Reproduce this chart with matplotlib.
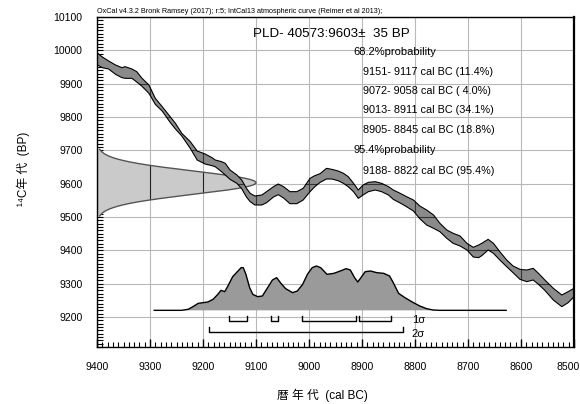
import numpy as np
import matplotlib
matplotlib.use('Agg')
import matplotlib.pyplot as plt
import matplotlib.transforms as mtransforms
from matplotlib import font_manager
from matplotlib.ticker import MultipleLocator

names = {f.name for f in font_manager.fontManager.ttflist}
latin = 'Liberation Sans Narrow' if 'Liberation Sans Narrow' in names else 'Liberation Sans'
plt.rcParams['font.family'] = [latin, 'Noto Sans CJK JP', 'DejaVu Sans']

# calibration curve band (cal BC, upper / lower edge in BP)
curve_bc = [9400, 9390, 9378, 9365, 9353, 9347, 9334, 9325, 9315, 9302, 9290, 9277,
            9262, 9252, 9240, 9224, 9211, 9196, 9183, 9177, 9165, 9158, 9149, 9136,
            9127, 9118, 9111, 9102, 9089, 9080, 9067, 9058, 9048, 9036, 9023, 9011,
            8998, 8989, 8979, 8967, 8957, 8945, 8935, 8926, 8916, 8907, 8898, 8888,
            8875, 8863, 8850, 8841, 8828, 8816, 8803, 8791, 8778, 8765, 8753, 8740,
            8728, 8715, 8702, 8690, 8680, 8674, 8662, 8652, 8640, 8627, 8615, 8602,
            8589, 8577, 8567, 8555, 8539, 8523, 8511, 8500]
curve_hi = [9993, 9980, 9968, 9956, 9948, 9951, 9944, 9936, 9916, 9896, 9856, 9831,
            9801, 9781, 9751, 9726, 9698, 9689, 9678, 9671, 9666, 9661, 9641, 9626,
            9611, 9586, 9571, 9563, 9566, 9576, 9591, 9599, 9591, 9576, 9576, 9586,
            9616, 9624, 9630, 9646, 9643, 9638, 9631, 9621, 9601, 9581, 9596, 9604,
            9606, 9601, 9591, 9581, 9571, 9561, 9551, 9533, 9521, 9506, 9481, 9461,
            9451, 9443, 9421, 9409, 9416, 9421, 9433, 9421, 9396, 9371, 9353, 9343,
            9341, 9346, 9331, 9311, 9286, 9266, 9276, 9286]
curve_lo = [9957, 9948, 9944, 9928, 9918, 9916, 9916, 9905, 9892, 9871, 9838, 9818,
            9784, 9764, 9743, 9706, 9671, 9659, 9654, 9651, 9636, 9626, 9613, 9601,
            9585, 9560, 9546, 9536, 9536, 9543, 9560, 9567, 9557, 9540, 9540, 9551,
            9576, 9591, 9604, 9614, 9614, 9609, 9601, 9591, 9576, 9556, 9566, 9576,
            9581, 9576, 9566, 9553, 9542, 9531, 9518, 9495, 9476, 9466, 9456, 9436,
            9421, 9413, 9401, 9380, 9378, 9384, 9401, 9391, 9371, 9351, 9333, 9313,
            9306, 9311, 9298, 9280, 9251, 9231, 9243, 9261]

# measurement
meas_bp = 9603
meas_err = 35

# calibrated probability (relative height)
prob_bc = [9292, 9241, 9228, 9219, 9209, 9200, 9191, 9181, 9172, 9166, 9159, 9153,
           9144, 9134, 9128, 9124, 9119, 9112, 9106, 9097, 9088, 9078, 9069, 9061,
           9053, 9044, 9031, 9022, 9012, 9003, 8994, 8986, 8978, 8966, 8953, 8941,
           8930, 8922, 8914, 8908, 8902, 8894, 8884, 8872, 8859, 8848, 8841, 8831,
           8819, 8803, 8791, 8778, 8766, 8753, 8628]
prob_h = [0, 0, 3, 11, 21, 23, 25, 33, 48, 60, 56, 73,
          101, 118, 128, 128, 108, 68, 48, 41, 43, 68, 91, 98,
          81, 65, 53, 58, 78, 108, 128, 133, 128, 108, 111, 118,
          125, 121, 98, 85, 98, 116, 118, 113, 111, 103, 83, 51,
          38, 23, 13, 5, 1, 0, 0]

ranges_1s = [(9151, 9117), (9072, 9058), (9013, 8911), (8905, 8845)]
ranges_2s = [(9188, 8822)]
pct_1s = ['11.4', ' 4.0', '34.1', '18.8']
pct_2s = ['95.4']

fig = plt.figure(figsize=(5.8, 4.04), dpi=100)
ax = fig.add_axes([97 / 580, 1 - 347 / 404, 477 / 580, 330 / 404])
ax.set_xlim(9400, 8500)
ax.set_ylim(9110, 10100)

ax.grid(True, which='major', color='#b8b8b8', lw=0.8, zorder=0)
ax.set_axisbelow(True)
xt = np.arange(9400, 8499, -100)
yt = np.arange(9200, 10101, 100)
gx, gy = np.meshgrid(xt[1:-1], yt[:-1])
ax.scatter(gx.ravel(), gy.ravel(), s=1.2, c='k', zorder=0.5, linewidths=0)

# measurement gaussian on the y axis
yy = np.linspace(meas_bp - 100, meas_bp + 100, 300)
xx = 9400 - 300 * np.exp(-(yy - meas_bp) ** 2 / (2 * meas_err ** 2))
g = ax.fill_betweenx(yy, 9400, xx, facecolor='#cacaca', edgecolor='none', zorder=1)
ax.plot(xx, yy, color='#555555', lw=1, zorder=1.2)
for v in xt:
    ln = ax.axvline(v, color='#222222', lw=0.8, zorder=1.1)
    ln.set_clip_path(g.get_paths()[0], ax.transData)

# calibration curve
band = ax.fill_between(curve_bc, curve_lo, curve_hi, facecolor='#8a8a8a',
                       edgecolor='none', zorder=2)
ax.plot(curve_bc, curve_hi, color='k', lw=0.8, zorder=2.5)
ax.plot(curve_bc, curve_lo, color='k', lw=0.8, zorder=2.5)
for v in xt:
    ln = ax.axvline(v, color='#333333', lw=0.8, zorder=2.2)
    ln.set_clip_path(band.get_paths()[0], ax.transData)
for h in yt:
    ln = ax.axhline(h, color='#333333', lw=0.8, zorder=2.2)
    ln.set_clip_path(band.get_paths()[0], ax.transData)

# calibrated distribution
base = 9220
ptop = [base + h for h in prob_h]
ax.fill_between(prob_bc, base, ptop, facecolor='#9a9a9a', edgecolor='none', zorder=3)
ax.plot(prob_bc, ptop, color='k', lw=1, zorder=3.5)

# range brackets
for a, b in ranges_1s:
    ax.plot([a, a, b, b], [9203, 9188, 9188, 9203], color='k', lw=1, zorder=4)
for a, b in ranges_2s:
    ax.plot([a, a, b, b], [9171, 9156, 9156, 9171], color='k', lw=1, zorder=4)
ax.text(ranges_2s[0][1] - 16, 9191, '1σ', fontsize=8, va='center', ha='left')
ax.text(ranges_2s[0][1] - 16, 9148, '2σ', fontsize=8, va='center', ha='left')

# text block
ax.text(0.327, 0.948, f'PLD- 40573:{meas_bp}\u00b1  {meas_err} BP', transform=ax.transAxes,
        fontsize=9.6, va='center', ha='left')
lines_y = [0.894, 0.833, 0.776, 0.718, 0.658, 0.597, 0.533]
ax.text(0.537, lines_y[0], '68.2%probability', transform=ax.transAxes,
        fontsize=8, va='center')
for i, ((a, b), p) in enumerate(zip(ranges_1s, pct_1s)):
    ax.text(0.558, lines_y[i + 1], f'{a}- {b} cal BC ({p}%)', transform=ax.transAxes,
            fontsize=7.8, va='center')
ax.text(0.537, lines_y[5], '95.4%probability', transform=ax.transAxes,
        fontsize=8, va='center')
for (a, b), p in zip(ranges_2s, pct_2s):
    ax.text(0.558, lines_y[6], f'{a}- {b} cal BC ({p}%)', transform=ax.transAxes,
            fontsize=7.8, va='center')

ax.text(0, 1.006, 'OxCal v4.3.2 Bronk Ramsey (2017); r:5; IntCal13 atmospheric curve (Reimer et al 2013);',
        transform=ax.transAxes, fontsize=5.2, va='bottom', ha='left')

# axes and ticks
ax.set_xticks(xt)
ax.set_yticks(yt)
ax.xaxis.set_minor_locator(MultipleLocator(10))
ax.yaxis.set_minor_locator(MultipleLocator(10))
ax.tick_params(axis='x', which='major', direction='in', length=6, width=1, pad=11,
               labelsize=7.6, top=False)
ax.tick_params(axis='x', which='minor', direction='in', length=3.5, width=0.8, top=False)
ax.tick_params(axis='y', which='both', direction='in', length=4, width=0.8, right=False)
ax.tick_params(axis='y', which='major', pad=10.5, labelsize=7.6)
for s in ax.spines.values():
    s.set_linewidth(1)
ax.spines['right'].set_linewidth(1.6)

# keep the last x label inside the figure
last = ax.get_xticklabels()[-1]
last.set_transform(last.get_transform() + mtransforms.ScaledTranslation(-6 / 100, 0, fig.dpi_scale_trans))

fig.text(322 / 580, 1 - 395 / 404, '暦 年 代  (cal BC)', fontsize=8.5, ha='center', va='center')
fig.text(23 / 580, 1 - 169 / 404, '\u00b9\u2074C年 代  (BP)', fontsize=8.5, ha='center',
         va='center', rotation=90)

fig.savefig('out.png', dpi=100)
